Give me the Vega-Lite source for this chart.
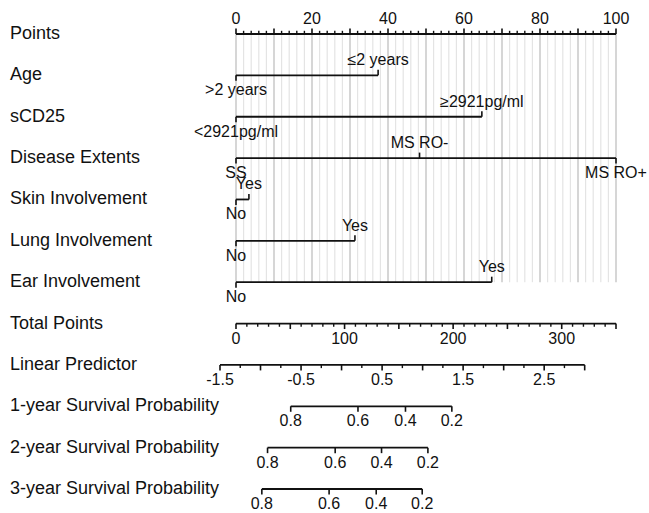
{
  "$schema": "https://vega.github.io/schema/vega-lite/v6.json",
  "width": 649,
  "height": 513,
  "autosize": "none",
  "padding": 0,
  "background": "white",
  "config": {"view": {"stroke": null}, "text": {"font": "Liberation Sans", "color": "#111"}},
  "datasets": {
    "rows": [
      {"row": 0, "name": "Points", "from": 0, "to": 100},
      {"row": 1, "name": "Age", "from": 0, "to": 37.4},
      {"row": 2, "name": "sCD25", "from": 0, "to": 64.7},
      {"row": 3, "name": "Disease Extents", "from": 0, "to": 100},
      {"row": 4, "name": "Skin Involvement", "from": 0, "to": 3.4},
      {"row": 5, "name": "Lung Involvement", "from": 0, "to": 31.3},
      {"row": 6, "name": "Ear Involvement", "from": 0, "to": 67.3},
      {"row": 7, "name": "Total Points", "from": 0, "to": 100},
      {"row": 8, "name": "Linear Predictor", "from": -4.21, "to": 91.76},
      {"row": 9, "name": "1-year Survival Probability", "from": 14.4, "to": 56.8},
      {"row": 10, "name": "2-year Survival Probability", "from": 8.3, "to": 50.5},
      {"row": 11, "name": "3-year Survival Probability", "from": 6.8, "to": 49.0}
    ],
    "ticks": [
      {"row": 0, "p": 0, "side": "above", "major": true, "label": "0"},
      {"row": 0, "p": 2, "side": "above", "major": false, "label": ""},
      {"row": 0, "p": 4, "side": "above", "major": false, "label": ""},
      {"row": 0, "p": 6, "side": "above", "major": false, "label": ""},
      {"row": 0, "p": 8, "side": "above", "major": false, "label": ""},
      {"row": 0, "p": 10, "side": "above", "major": true, "label": ""},
      {"row": 0, "p": 12, "side": "above", "major": false, "label": ""},
      {"row": 0, "p": 14, "side": "above", "major": false, "label": ""},
      {"row": 0, "p": 16, "side": "above", "major": false, "label": ""},
      {"row": 0, "p": 18, "side": "above", "major": false, "label": ""},
      {"row": 0, "p": 20, "side": "above", "major": true, "label": "20"},
      {"row": 0, "p": 22, "side": "above", "major": false, "label": ""},
      {"row": 0, "p": 24, "side": "above", "major": false, "label": ""},
      {"row": 0, "p": 26, "side": "above", "major": false, "label": ""},
      {"row": 0, "p": 28, "side": "above", "major": false, "label": ""},
      {"row": 0, "p": 30, "side": "above", "major": true, "label": ""},
      {"row": 0, "p": 32, "side": "above", "major": false, "label": ""},
      {"row": 0, "p": 34, "side": "above", "major": false, "label": ""},
      {"row": 0, "p": 36, "side": "above", "major": false, "label": ""},
      {"row": 0, "p": 38, "side": "above", "major": false, "label": ""},
      {"row": 0, "p": 40, "side": "above", "major": true, "label": "40"},
      {"row": 0, "p": 42, "side": "above", "major": false, "label": ""},
      {"row": 0, "p": 44, "side": "above", "major": false, "label": ""},
      {"row": 0, "p": 46, "side": "above", "major": false, "label": ""},
      {"row": 0, "p": 48, "side": "above", "major": false, "label": ""},
      {"row": 0, "p": 50, "side": "above", "major": true, "label": ""},
      {"row": 0, "p": 52, "side": "above", "major": false, "label": ""},
      {"row": 0, "p": 54, "side": "above", "major": false, "label": ""},
      {"row": 0, "p": 56, "side": "above", "major": false, "label": ""},
      {"row": 0, "p": 58, "side": "above", "major": false, "label": ""},
      {"row": 0, "p": 60, "side": "above", "major": true, "label": "60"},
      {"row": 0, "p": 62, "side": "above", "major": false, "label": ""},
      {"row": 0, "p": 64, "side": "above", "major": false, "label": ""},
      {"row": 0, "p": 66, "side": "above", "major": false, "label": ""},
      {"row": 0, "p": 68, "side": "above", "major": false, "label": ""},
      {"row": 0, "p": 70, "side": "above", "major": true, "label": ""},
      {"row": 0, "p": 72, "side": "above", "major": false, "label": ""},
      {"row": 0, "p": 74, "side": "above", "major": false, "label": ""},
      {"row": 0, "p": 76, "side": "above", "major": false, "label": ""},
      {"row": 0, "p": 78, "side": "above", "major": false, "label": ""},
      {"row": 0, "p": 80, "side": "above", "major": true, "label": "80"},
      {"row": 0, "p": 82, "side": "above", "major": false, "label": ""},
      {"row": 0, "p": 84, "side": "above", "major": false, "label": ""},
      {"row": 0, "p": 86, "side": "above", "major": false, "label": ""},
      {"row": 0, "p": 88, "side": "above", "major": false, "label": ""},
      {"row": 0, "p": 90, "side": "above", "major": true, "label": ""},
      {"row": 0, "p": 92, "side": "above", "major": false, "label": ""},
      {"row": 0, "p": 94, "side": "above", "major": false, "label": ""},
      {"row": 0, "p": 96, "side": "above", "major": false, "label": ""},
      {"row": 0, "p": 98, "side": "above", "major": false, "label": ""},
      {"row": 0, "p": 100, "side": "above", "major": true, "label": "100"},

      {"row": 1, "p": 0, "side": "below", "major": true, "label": ">2 years"},
      {"row": 1, "p": 37.4, "side": "above", "major": true, "label": "≤2 years"},
      {"row": 2, "p": 0, "side": "below", "major": true, "label": "<2921pg/ml"},
      {"row": 2, "p": 64.7, "side": "above", "major": true, "label": "≥2921pg/ml"},
      {"row": 3, "p": 0, "side": "below", "major": true, "label": "SS"},
      {"row": 3, "p": 48.3, "side": "above", "major": true, "label": "MS RO-"},
      {"row": 3, "p": 100, "side": "below", "major": true, "label": "MS RO+"},
      {"row": 4, "p": 0, "side": "below", "major": true, "label": "No"},
      {"row": 4, "p": 3.4, "side": "above", "major": true, "label": "Yes"},
      {"row": 5, "p": 0, "side": "below", "major": true, "label": "No"},
      {"row": 5, "p": 31.3, "side": "above", "major": true, "label": "Yes"},
      {"row": 6, "p": 0, "side": "below", "major": true, "label": "No"},
      {"row": 6, "p": 67.3, "side": "above", "major": true, "label": "Yes"},

      {"row": 7, "p": 0, "side": "below", "major": true, "label": "0"},
      {"row": 7, "p": 2.857, "side": "below", "major": false, "label": ""},
      {"row": 7, "p": 5.714, "side": "below", "major": false, "label": ""},
      {"row": 7, "p": 8.571, "side": "below", "major": false, "label": ""},
      {"row": 7, "p": 11.429, "side": "below", "major": false, "label": ""},
      {"row": 7, "p": 14.286, "side": "below", "major": true, "label": ""},
      {"row": 7, "p": 17.143, "side": "below", "major": false, "label": ""},
      {"row": 7, "p": 20, "side": "below", "major": false, "label": ""},
      {"row": 7, "p": 22.857, "side": "below", "major": false, "label": ""},
      {"row": 7, "p": 25.714, "side": "below", "major": false, "label": ""},
      {"row": 7, "p": 28.571, "side": "below", "major": true, "label": "100"},
      {"row": 7, "p": 31.429, "side": "below", "major": false, "label": ""},
      {"row": 7, "p": 34.286, "side": "below", "major": false, "label": ""},
      {"row": 7, "p": 37.143, "side": "below", "major": false, "label": ""},
      {"row": 7, "p": 40, "side": "below", "major": false, "label": ""},
      {"row": 7, "p": 42.857, "side": "below", "major": true, "label": ""},
      {"row": 7, "p": 45.714, "side": "below", "major": false, "label": ""},
      {"row": 7, "p": 48.571, "side": "below", "major": false, "label": ""},
      {"row": 7, "p": 51.429, "side": "below", "major": false, "label": ""},
      {"row": 7, "p": 54.286, "side": "below", "major": false, "label": ""},
      {"row": 7, "p": 57.143, "side": "below", "major": true, "label": "200"},
      {"row": 7, "p": 60, "side": "below", "major": false, "label": ""},
      {"row": 7, "p": 62.857, "side": "below", "major": false, "label": ""},
      {"row": 7, "p": 65.714, "side": "below", "major": false, "label": ""},
      {"row": 7, "p": 68.571, "side": "below", "major": false, "label": ""},
      {"row": 7, "p": 71.429, "side": "below", "major": true, "label": ""},
      {"row": 7, "p": 74.286, "side": "below", "major": false, "label": ""},
      {"row": 7, "p": 77.143, "side": "below", "major": false, "label": ""},
      {"row": 7, "p": 80, "side": "below", "major": false, "label": ""},
      {"row": 7, "p": 82.857, "side": "below", "major": false, "label": ""},
      {"row": 7, "p": 85.714, "side": "below", "major": true, "label": "300"},
      {"row": 7, "p": 88.571, "side": "below", "major": false, "label": ""},
      {"row": 7, "p": 91.429, "side": "below", "major": false, "label": ""},
      {"row": 7, "p": 94.286, "side": "below", "major": false, "label": ""},
      {"row": 7, "p": 97.143, "side": "below", "major": false, "label": ""},
      {"row": 7, "p": 100, "side": "below", "major": true, "label": ""},

      {"row": 8, "p": -4.21, "side": "below", "major": true, "label": "-1.5"},
      {"row": 8, "p": 1.12, "side": "below", "major": false, "label": ""},
      {"row": 8, "p": 6.45, "side": "below", "major": true, "label": ""},
      {"row": 8, "p": 11.79, "side": "below", "major": false, "label": ""},
      {"row": 8, "p": 17.12, "side": "below", "major": true, "label": "-0.5"},
      {"row": 8, "p": 22.45, "side": "below", "major": false, "label": ""},
      {"row": 8, "p": 27.78, "side": "below", "major": true, "label": ""},
      {"row": 8, "p": 33.11, "side": "below", "major": false, "label": ""},
      {"row": 8, "p": 38.45, "side": "below", "major": true, "label": "0.5"},
      {"row": 8, "p": 43.78, "side": "below", "major": false, "label": ""},
      {"row": 8, "p": 49.11, "side": "below", "major": true, "label": ""},
      {"row": 8, "p": 54.44, "side": "below", "major": false, "label": ""},
      {"row": 8, "p": 59.77, "side": "below", "major": true, "label": "1.5"},
      {"row": 8, "p": 65.11, "side": "below", "major": false, "label": ""},
      {"row": 8, "p": 70.44, "side": "below", "major": true, "label": ""},
      {"row": 8, "p": 75.77, "side": "below", "major": false, "label": ""},
      {"row": 8, "p": 81.10, "side": "below", "major": true, "label": "2.5"},
      {"row": 8, "p": 86.43, "side": "below", "major": false, "label": ""},
      {"row": 8, "p": 91.76, "side": "below", "major": true, "label": ""},

      {"row": 9, "p": 14.4, "side": "below", "major": true, "label": "0.8"},
      {"row": 9, "p": 32.1, "side": "below", "major": true, "label": "0.6"},
      {"row": 9, "p": 44.6, "side": "below", "major": true, "label": "0.4"},
      {"row": 9, "p": 56.8, "side": "below", "major": true, "label": "0.2"},
      {"row": 10, "p": 8.3, "side": "below", "major": true, "label": "0.8"},
      {"row": 10, "p": 26.1, "side": "below", "major": true, "label": "0.6"},
      {"row": 10, "p": 38.3, "side": "below", "major": true, "label": "0.4"},
      {"row": 10, "p": 50.5, "side": "below", "major": true, "label": "0.2"},
      {"row": 11, "p": 6.8, "side": "below", "major": true, "label": "0.8"},
      {"row": 11, "p": 24.5, "side": "below", "major": true, "label": "0.6"},
      {"row": 11, "p": 36.9, "side": "below", "major": true, "label": "0.4"},
      {"row": 11, "p": 49.0, "side": "below", "major": true, "label": "0.2"}
    ]
  },
  "layer": [
    {
      "data": {"name": "ticks"},
      "transform": [{"filter": "datum.row === 0 && !datum.major"}],
      "mark": {"type": "rule", "color": "#e4e4e4", "strokeWidth": 1.2},
      "encoding": {
        "x": {"field": "p", "type": "quantitative", "scale": {"domain": [-62.105, 108.684], "nice": false, "zero": false}, "axis": null},
        "y": {"datum": 0, "type": "quantitative", "scale": {"domain": [-0.822, 11.58], "reverse": true, "nice": false, "zero": false}, "axis": null},
        "y2": {"datum": 6}
      }
    },
    {
      "data": {"name": "ticks"},
      "transform": [{"filter": "datum.row === 0 && datum.major"}],
      "mark": {"type": "rule", "color": "#cccccc", "strokeWidth": 1.6},
      "encoding": {
        "x": {"field": "p", "type": "quantitative", "scale": {"domain": [-62.105, 108.684], "nice": false, "zero": false}, "axis": null},
        "y": {"datum": 0, "type": "quantitative", "scale": {"domain": [-0.822, 11.58], "reverse": true, "nice": false, "zero": false}, "axis": null},
        "y2": {"datum": 6}
      }
    },
    {
      "data": {"name": "rows"},
      "mark": {"type": "rule", "color": "#111", "strokeWidth": 1.8},
      "encoding": {
        "x": {"field": "from", "type": "quantitative", "scale": {"domain": [-62.105, 108.684], "nice": false, "zero": false}, "axis": null},
        "x2": {"field": "to"},
        "y": {"field": "row", "type": "quantitative", "scale": {"domain": [-0.822, 11.58], "reverse": true, "nice": false, "zero": false}, "axis": null}
      }
    },
    {
      "data": {"name": "ticks"},
      "transform": [{"filter": "datum.side === 'above' && datum.major"}],
      "mark": {"type": "rule", "color": "#111", "strokeWidth": 1.6, "y2Offset": -5.5},
      "encoding": {
        "x": {"field": "p", "type": "quantitative", "scale": {"domain": [-62.105, 108.684], "nice": false, "zero": false}, "axis": null},
        "y": {"field": "row", "type": "quantitative", "scale": {"domain": [-0.822, 11.58], "reverse": true, "nice": false, "zero": false}, "axis": null},
        "y2": {"field": "row"}
      }
    },
    {
      "data": {"name": "ticks"},
      "transform": [{"filter": "datum.side === 'above' && !datum.major"}],
      "mark": {"type": "rule", "color": "#111", "strokeWidth": 1.4, "y2Offset": -3.2},
      "encoding": {
        "x": {"field": "p", "type": "quantitative", "scale": {"domain": [-62.105, 108.684], "nice": false, "zero": false}, "axis": null},
        "y": {"field": "row", "type": "quantitative", "scale": {"domain": [-0.822, 11.58], "reverse": true, "nice": false, "zero": false}, "axis": null},
        "y2": {"field": "row"}
      }
    },
    {
      "data": {"name": "ticks"},
      "transform": [{"filter": "datum.side === 'below' && datum.major"}],
      "mark": {"type": "rule", "color": "#111", "strokeWidth": 1.6, "y2Offset": 5.5},
      "encoding": {
        "x": {"field": "p", "type": "quantitative", "scale": {"domain": [-62.105, 108.684], "nice": false, "zero": false}, "axis": null},
        "y": {"field": "row", "type": "quantitative", "scale": {"domain": [-0.822, 11.58], "reverse": true, "nice": false, "zero": false}, "axis": null},
        "y2": {"field": "row"}
      }
    },
    {
      "data": {"name": "ticks"},
      "transform": [{"filter": "datum.side === 'below' && !datum.major"}],
      "mark": {"type": "rule", "color": "#111", "strokeWidth": 1.4, "y2Offset": 3.2},
      "encoding": {
        "x": {"field": "p", "type": "quantitative", "scale": {"domain": [-62.105, 108.684], "nice": false, "zero": false}, "axis": null},
        "y": {"field": "row", "type": "quantitative", "scale": {"domain": [-0.822, 11.58], "reverse": true, "nice": false, "zero": false}, "axis": null},
        "y2": {"field": "row"}
      }
    },
    {
      "data": {"name": "ticks"},
      "transform": [{"filter": "datum.side === 'above' && datum.label !== ''"}],
      "mark": {"type": "text", "fontSize": 16, "align": "center", "baseline": "middle", "dy": -15},
      "encoding": {
        "x": {"field": "p", "type": "quantitative", "scale": {"domain": [-62.105, 108.684], "nice": false, "zero": false}, "axis": null},
        "y": {"field": "row", "type": "quantitative", "scale": {"domain": [-0.822, 11.58], "reverse": true, "nice": false, "zero": false}, "axis": null},
        "text": {"field": "label"}
      }
    },
    {
      "data": {"name": "ticks"},
      "transform": [{"filter": "datum.side === 'below' && datum.label !== ''"}],
      "mark": {"type": "text", "fontSize": 16, "align": "center", "baseline": "middle", "dy": 15},
      "encoding": {
        "x": {"field": "p", "type": "quantitative", "scale": {"domain": [-62.105, 108.684], "nice": false, "zero": false}, "axis": null},
        "y": {"field": "row", "type": "quantitative", "scale": {"domain": [-0.822, 11.58], "reverse": true, "nice": false, "zero": false}, "axis": null},
        "text": {"field": "label"}
      }
    },
    {
      "data": {"name": "rows"},
      "mark": {"type": "text", "fontSize": 18, "align": "left", "baseline": "middle"},
      "encoding": {
        "x": {"datum": -59.47, "type": "quantitative", "scale": {"domain": [-62.105, 108.684], "nice": false, "zero": false}, "axis": null},
        "y": {"field": "row", "type": "quantitative", "scale": {"domain": [-0.822, 11.58], "reverse": true, "nice": false, "zero": false}, "axis": null},
        "text": {"field": "name"}
      }
    }
  ]
}
